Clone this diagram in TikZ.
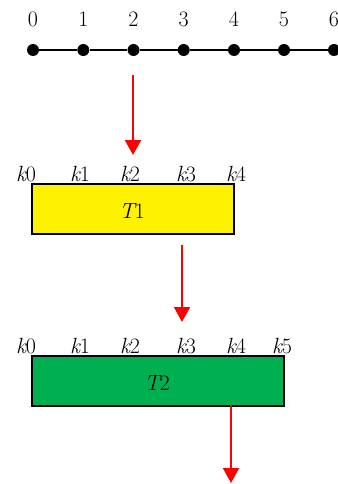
\documentclass[tikz,border=0pt]{standalone}
\usepackage{fontspec}
\usetikzlibrary{arrows.meta}
\begin{document}
\begin{tikzpicture}[x=1pt,y=-1pt,
  dot/.style={circle,fill=black,inner sep=0pt,minimum size=12pt},
  lbl/.style={anchor=base,inner sep=0pt,font=\fontsize{22}{26}\selectfont},
  redarrow/.style={draw=red,line width=2pt,-{Triangle[width=16pt,length=15pt]}},
  box/.style={draw=black,line width=1.8pt,anchor=north west,inner sep=0pt}]
\useasboundingbox (0,0) rectangle (337,484);
% number line
\foreach \i/\x in {0/33,1/83.3,2/133.5,3/183.7,4/234,5/284,6/334}{
  \node[dot] (d\i) at (\x,50) {};
  \node[lbl] (n\i) at (\x,27) {\i};
}
\draw[line width=1.5pt] (d0) -- (d1) -- (d2) -- (d3) -- (d4) -- (d5) -- (d6);
% T1
\node[box,fill=yellow,minimum width=202pt,minimum height=50pt] (t1) at (31,183) {};
\node[lbl] (t1l) at (132,218) {{\itshape T}1};
\foreach \i/\x in {0/26,1/80,2/130,3/186,4/236}{
  \node[lbl] (a\i) at (\x,181) {{\itshape k}\i};
}
% T2
\node[box,fill={rgb,255:red,0;green,176;blue,80},minimum width=252pt,minimum height=50pt] (t2) at (31,355) {};
\node[lbl] (t2l) at (157,390) {{\itshape T}2};
\foreach \i/\x in {0/26,1/80,2/130,3/186,4/236,5/282}{
  \node[lbl] (b\i) at (\x,353) {{\itshape k}\i};
}
% arrows
\coordinate (s1) at (133,75);
\coordinate (e1) at (133,155);
\coordinate (s2) at (182,245);
\coordinate (e2) at (182,322);
\coordinate (s3) at (231,405);
\coordinate (e3) at (231,483);
\draw[redarrow] (s1) -- (e1);
\draw[redarrow] (s2) -- (e2);
\draw[redarrow] (s3) -- (e3);
\end{tikzpicture}
\end{document}
